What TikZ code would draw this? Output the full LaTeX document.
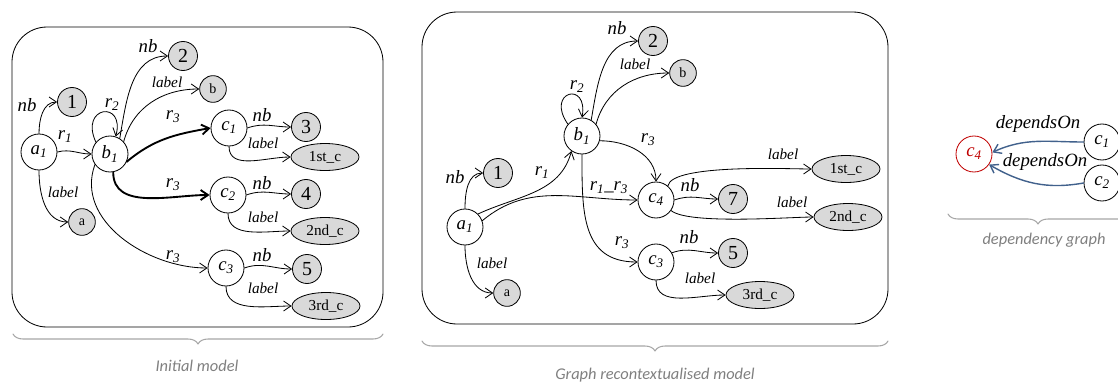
\documentclass[tikz,border=0pt]{standalone}
\usepackage{fontspec}
\setmainfont{Liberation Serif}
\newfontfamily\capfont{Carlito}
\usepackage{tikz}
\usetikzlibrary{arrows.meta,decorations.pathreplacing,shapes.geometric}
\definecolor{rcFill}{HTML}{D9D9D9}
\definecolor{rcBrace}{HTML}{A6A6A6}
\definecolor{rcCaption}{HTML}{7F7F7F}
\definecolor{rcRed}{HTML}{C00000}
\definecolor{rcBlue}{HTML}{41618C}
\tikzset{
  rc diagram/.style={x=0.03cm, y=0.03cm, line cap=round, line join=round},
  rc var/.style={circle, draw=black, fill=white, line width=0.7pt,
    minimum size=1.08cm, inner sep=0pt, font=\fontsize{16}{18}\selectfont\itshape},
  rc num/.style={circle, draw=black, fill=rcFill, line width=0.7pt,
    minimum size=0.87cm, inner sep=0pt, font=\fontsize{17}{18}\selectfont},
  rc lit/.style={rc num, minimum size=0.8cm, font=\fontsize{12}{14}\selectfont},
  rc str/.style={ellipse, draw=black, fill=rcFill, line width=0.7pt,
    minimum width=2.04cm, minimum height=0.81cm, inner sep=0pt,
    font=\fontsize{13}{14}\selectfont},
  rc arrow/.style={-{Straight Barb[length=2.2mm,width=3mm]}, line width=0.7pt},
  rc bold/.style={rc arrow, line width=1.6pt},
  rc rel/.style={font=\fontsize{16}{18}\selectfont\itshape, inner sep=1pt},
  rc lab/.style={font=\fontsize{13}{14}\selectfont\itshape, inner sep=1pt},
  rc panel/.style={draw=black, line width=0.7pt, rounded corners=1.05cm},
  rc brace/.style={draw=rcBrace, line width=0.9pt, decorate,
    decoration={brace, mirror, amplitude=0.3cm}},
  rc caption/.style={font=\capfont\fontsize{14}{16}\selectfont\itshape, text=rcCaption},
  rc dep/.style={rc arrow, draw=rcBlue, line width=1.2pt}
}

\begin{document}
\begin{tikzpicture}[rc diagram]
\useasboundingbox (0,0) rectangle (1118,-385);

% initial model
\draw[rc panel] (12,-27) rectangle (383,-327);
\node[rc var] (pa-a1) at (39,-152) {a\textsubscript{1}};
\node[rc var] (pa-b1) at (110,-154) {b\textsubscript{1}};
\node[rc num] (pa-n1) at (72,-102) {1};
\node[rc lit] (pa-a) at (82,-222) {a};
\node[rc num] (pa-n2) at (183,-56) {2};
\node[rc lit] (pa-b) at (213,-89) {b};
\node[rc var] (pa-c1) at (229,-128) {c\textsubscript{1}};
\node[rc num] (pa-n3) at (306,-127) {3};
\node[rc str] (pa-s1) at (325,-157) {1st\_c};
\node[rc var] (pa-c2) at (228,-195) {c\textsubscript{2}};
\node[rc num] (pa-n4) at (306,-194) {4};
\node[rc str] (pa-s2) at (325,-231) {2nd\_c};
\node[rc var] (pa-c3) at (226,-268) {c\textsubscript{3}};
\node[rc num] (pa-n5) at (307,-269) {5};
\node[rc str] (pa-s3) at (326,-306) {3rd\_c};

\draw[rc arrow] (pa-a1.north) to[out=90,in=180] (pa-n1.west);
\draw[rc arrow] (pa-a1.east) to[out=15,in=180] (pa-b1.west);
\draw[rc arrow] (pa-a1.south) to[out=-90,in=180] (pa-a.west);
\draw[rc arrow] (pa-b1.140) .. controls +(115:40) and +(75:38) .. (pa-b1.72);
\draw[rc arrow] (pa-b1.58) to[out=80,in=180] (pa-n2.west);
\draw[rc arrow] (pa-b1.42) to[out=75,in=180] (pa-b.west);
\draw[rc bold] (pa-b1.-25) to[out=40,in=190] (pa-c1.west);
\draw[rc bold] (pa-b1.-80) to[out=-90,in=180] (pa-c2.west);
\draw[rc arrow] (pa-b1.215) to[out=-110,in=180] (pa-c3.west);
\draw[rc arrow] (pa-c1.east) to[out=20,in=180] (pa-n3.west);
\draw[rc arrow] (pa-c1.south) to[out=-90,in=180] (pa-s1.west);
\draw[rc arrow] (pa-c2.east) to[out=20,in=180] (pa-n4.west);
\draw[rc arrow] (pa-c2.south) to[out=-90,in=180] (pa-s2.west);
\draw[rc arrow] (pa-c3.east) to[out=20,in=180] (pa-n5.west);
\draw[rc arrow] (pa-c3.south) to[out=-90,in=180] (pa-s3.west);

\node[rc rel] (pa-l1) at (27,-105) {nb};
\node[rc rel] (pa-l2) at (65,-137) {r\textsubscript{1}};
\node[rc lab] (pa-l3) at (63,-192) {label};
\node[rc rel] (pa-l4) at (112,-105) {r\textsubscript{2}};
\node[rc rel] (pa-l5) at (148,-46) {nb};
\node[rc lab] (pa-l6) at (167,-82) {label};
\node[rc rel] (pa-l7) at (173,-117) {r\textsubscript{3}};
\node[rc rel] (pa-l8) at (173,-185) {r\textsubscript{3}};
\node[rc rel] (pa-l9) at (173,-257) {r\textsubscript{3}};
\node[rc rel] (pa-l10) at (262,-115) {nb};
\node[rc lab] (pa-l11) at (263,-143) {label};
\node[rc rel] (pa-l12) at (262,-183) {nb};
\node[rc lab] (pa-l13) at (263,-217) {label};
\node[rc rel] (pa-l14) at (262,-255) {nb};
\node[rc lab] (pa-l15) at (263,-288) {label};

\draw[rc brace] (13,-334) -- (383,-334);
\node[rc caption] (pa-cap) at (197,-366) {Initial model};

% graph recontextualised model
\draw[rc panel] (422,-12) rectangle (888,-324);
\node[rc var] (pb-a1) at (465,-227) {a\textsubscript{1}};
\node[rc num] (pb-n1) at (498,-173) {1};
\node[rc lit] (pb-a) at (507,-293) {a};
\node[rc var] (pb-b1) at (582,-136) {b\textsubscript{1}};
\node[rc num] (pb-n2) at (653,-41) {2};
\node[rc lit] (pb-b) at (683,-73) {b};
\node[rc var] (pb-c4) at (656,-200) {c\textsubscript{4}};
\node[rc num] (pb-n7) at (733,-199) {7};
\node[rc str] (pb-s1) at (846,-169) {1st\_c};
\node[rc str] (pb-s2) at (848,-217) {2nd\_c};
\node[rc var] (pb-c3) at (656,-262) {c\textsubscript{3}};
\node[rc num] (pb-n5) at (733,-253) {5};
\node[rc str] (pb-s3) at (760,-295) {3rd\_c};

\draw[rc arrow] (pb-a1.north) to[out=90,in=180] (pb-n1.west);
\draw[rc arrow] (pb-a1.45) to[out=25,in=-105] (pb-b1.235);
\draw[rc arrow] (pb-a1.20) to[out=40,in=180] (pb-c4.west);
\draw[rc arrow] (pb-a1.south) to[out=-90,in=180] (pb-a.west);
\draw[rc arrow] (pb-b1.140) .. controls +(125:40) and +(80:38) .. (pb-b1.90);
\draw[rc arrow] (pb-b1.60) to[out=80,in=180] (pb-n2.west);
\draw[rc arrow] (pb-b1.40) to[out=75,in=180] (pb-b.west);
\draw[rc arrow] (pb-b1.-15) to[out=0,in=90] (pb-c4.north);
\draw[rc arrow] (pb-b1.-90) to[out=-90,in=180,looseness=1.2] (pb-c3.west);
\draw[rc arrow] (pb-c4.50) to[out=80,in=180,looseness=0.4] (pb-s1.west);
\draw[rc arrow] (pb-c4.east) to[out=20,in=180] (pb-n7.west);
\draw[rc arrow] (pb-c4.-35) to[out=-40,in=180,looseness=0.4] (pb-s2.west);
\draw[rc arrow] (pb-c3.30) to[out=20,in=180] (pb-n5.west);
\draw[rc arrow] (pb-c3.south) to[out=-90,in=180] (pb-s3.west);

\node[rc rel] (pb-l1) at (455,-177) {nb};
\node[rc rel] (pb-l2) at (542,-173) {r\textsubscript{1}};
\node[rc rel] (pb-l3) at (609,-188) {r\textsubscript{1}\_r\textsubscript{3}};
\node[rc lab] (pb-l4) at (492,-263) {label};
\node[rc rel] (pb-l5) at (577,-87) {r\textsubscript{2}};
\node[rc rel] (pb-l6) at (617,-28) {nb};
\node[rc lab] (pb-l7) at (635,-64) {label};
\node[rc rel] (pb-l8) at (648,-140) {r\textsubscript{3}};
\node[rc rel] (pb-l9) at (622,-243) {r\textsubscript{3}};
\node[rc lab] (pb-l10) at (783,-154) {label};
\node[rc rel] (pb-l11) at (690,-185) {nb};
\node[rc lab] (pb-l12) at (792,-202) {label};
\node[rc rel] (pb-l13) at (689,-237) {nb};
\node[rc lab] (pb-l14) at (700,-278) {label};

\draw[rc brace] (422,-341) -- (888,-341);
\node[rc caption] (pb-cap) at (655,-375) {Graph recontextualised model};

% dependency graph
\node[rc var, draw=rcRed, text=rcRed] (pc-c4) at (974,-154) {c\textsubscript{4}};
\node[rc var] (pc-c1) at (1102,-142) {c\textsubscript{1}};
\node[rc var] (pc-c2) at (1102,-183) {c\textsubscript{2}};
\draw[rc dep] (pc-c1.west) to[out=180,in=25] (pc-c4.5);
\draw[rc dep] (pc-c2.west) to[out=190,in=-30] (pc-c4.-35);
\node[rc rel] (pc-l1) at (1038,-124) {dependsOn};
\node[rc rel] (pc-l2) at (1045,-162) {dependsOn};

\draw[rc brace] (948,-214) -- (1128,-214);
\node[rc caption] (pc-cap) at (1044,-240) {dependency graph};
\end{tikzpicture}
\end{document}
